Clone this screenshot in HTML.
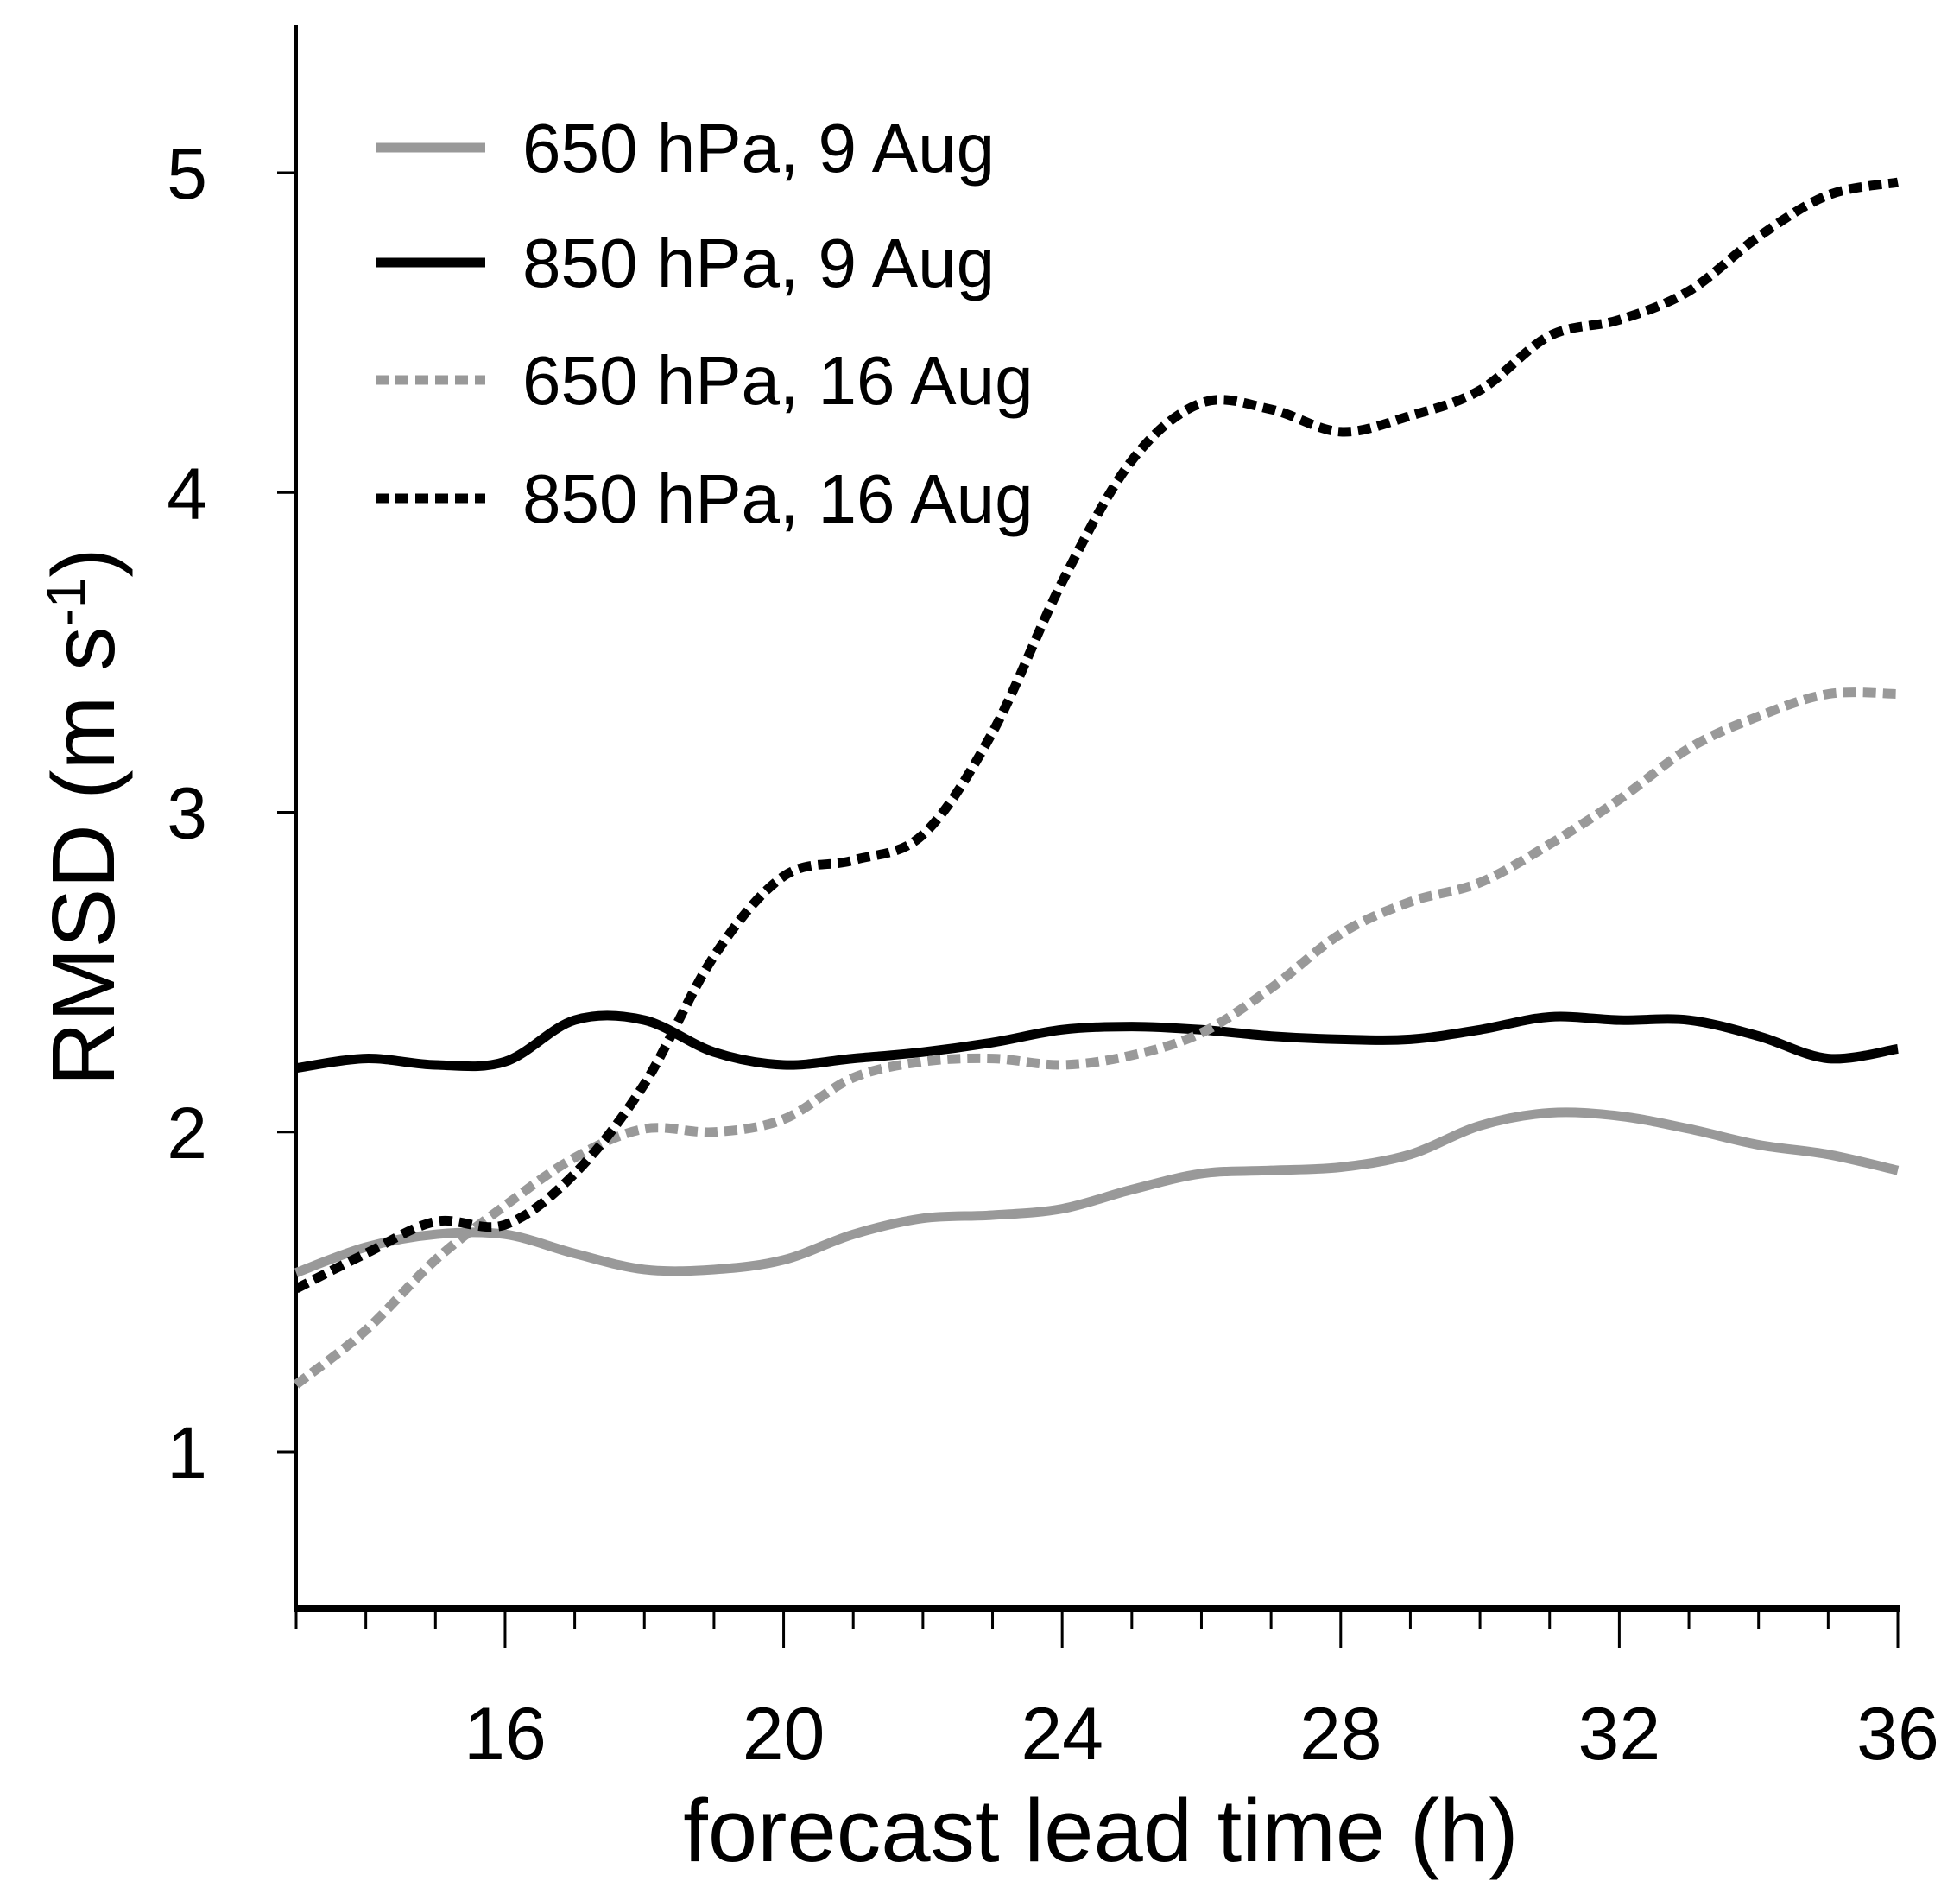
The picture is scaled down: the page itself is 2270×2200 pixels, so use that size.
<!DOCTYPE html>
<html><head><meta charset="utf-8"><style>
html,body{margin:0;padding:0;background:#fff}
svg{display:block}
text{font-family:"Liberation Sans",Arial,sans-serif;fill:#000}
</style></head><body>
<svg id="chart" width="2270" height="2200" viewBox="0 0 2270 2200" xmlns="http://www.w3.org/2000/svg">
<g id="axes"></g><g id="series"></g><g id="legend"></g>
</svg>
<script>
const hours = [13,14,15,16,17,18,19,20,21,22,23,24,25,26,27,28,29,30,31,32,33,34,35,36];
const s650aug9 = [1.56,1.64,1.68,1.68,1.62,1.57,1.57,1.60,1.68,1.73,1.74,1.76,1.82,1.87,1.88,1.89,1.93,2.02,2.06,2.05,2.01,1.96,1.93,1.88];
const s850aug9 = [2.20,2.23,2.21,2.22,2.35,2.35,2.25,2.21,2.23,2.25,2.28,2.32,2.33,2.32,2.30,2.29,2.29,2.32,2.36,2.35,2.35,2.30,2.23,2.26];
const s650aug16 = [1.21,1.38,1.60,1.77,1.92,2.01,2.00,2.04,2.17,2.22,2.23,2.21,2.24,2.31,2.45,2.62,2.72,2.78,2.90,3.04,3.20,3.30,3.37,3.37];
const s850aug16 = [1.51,1.62,1.72,1.71,1.87,2.15,2.55,2.80,2.85,2.93,3.25,3.72,4.10,4.28,4.26,4.19,4.24,4.32,4.49,4.54,4.63,4.80,4.93,4.97];
const xTickLabels = [16,20,24,28,32,36];
const yTickLabels = [1,2,3,4,5];
const legendLabels = ["650 hPa, 9 Aug","850 hPa, 9 Aug","650 hPa, 16 Aug","850 hPa, 16 Aug"];

const NS="http://www.w3.org/2000/svg";
const XL=343, XR=2198, AXY=1862;
function xs(h){return XL+(h-13)*(XR-XL)/23;}
function ys(v){return 1681-(v-1)*370.25;}
function mk(tag,attrs,parent){const e=document.createElementNS(NS,tag);for(const k in attrs)e.setAttribute(k,attrs[k]);parent.appendChild(e);return e;}
const axes=document.getElementById('axes');
const yAxis=mk('line',{x1:XL,y1:29,x2:XL,y2:AXY+4,stroke:'#000','stroke-width':4},axes);


const xAxis=mk('line',{x1:XL-2,y1:AXY,x2:XR+2,y2:AXY,stroke:'#000','stroke-width':8},axes);


for(let h=13;h<=36;h++){
  const major=xTickLabels.includes(h);
  const t=mk('line',{x1:xs(h),y1:AXY,x2:xs(h),y2:major?AXY+46:AXY+24,stroke:'#000','stroke-width':3},axes);
  
  
}
xTickLabels.forEach(v=>{
  const t=mk('text',{x:xs(v),y:2037,'font-size':86,'text-anchor':'middle'},axes);
  t.textContent=v;
  
  
});
yTickLabels.forEach(v=>{
  const l=mk('line',{x1:XL-22,y1:ys(v),x2:XL,y2:ys(v),stroke:'#000','stroke-width':3},axes);
  
  
  const t=mk('text',{x:240,y:ys(v)+30,'font-size':84,'text-anchor':'end'},axes);
  t.textContent=v;
  
  
});
const xt=mk('text',{x:1275,y:2155,'font-size':103,'text-anchor':'middle'},axes);
xt.textContent='forecast lead time (h)';


const yt=mk('text',{x:0,y:0,'font-size':103,'text-anchor':'middle',transform:'translate(132,946) rotate(-90)'},axes);
yt.innerHTML='RMSD (m s<tspan dy="-34" font-size="64">-1</tspan><tspan dy="34">)</tspan>';



function pathFor(vals){
  const p=vals.map((v,i)=>[xs(hours[i]),ys(v)]);
  let d='M'+p[0][0]+','+p[0][1];
  for(let i=0;i<p.length-1;i++){
    const p0=p[Math.max(0,i-1)],p1=p[i],p2=p[i+1],p3=p[Math.min(p.length-1,i+2)];
    const c1=[p1[0]+(p2[0]-p0[0])/6,p1[1]+(p2[1]-p0[1])/6];
    const c2=[p2[0]-(p3[0]-p1[0])/6,p2[1]-(p3[1]-p1[1])/6];
    d+=' C'+c1+' '+c2+' '+p2;
  }
  return d;
}
const styles=[
  {vals:s650aug9,color:'#999',dash:null,name:'series-650hpa-9aug'},
  {vals:s850aug9,color:'#000',dash:null,name:'series-850hpa-9aug'},
  {vals:s650aug16,color:'#999',dash:'15 8',name:'series-650hpa-16aug'},
  {vals:s850aug16,color:'#000',dash:'15 8',name:'series-850hpa-16aug'}
];
const sg=document.getElementById('series'), lg=document.getElementById('legend');
const legendY=[171,304,440,577];
styles.forEach((s,i)=>{
  const a={d:pathFor(s.vals),fill:'none',stroke:s.color,'stroke-width':11,'stroke-linejoin':'round'};
  if(s.dash)a['stroke-dasharray']=s.dash;
  const p=mk('path',a,sg);
  
  
  const ly=legendY[i];
  const la={x1:435,y1:ly,x2:562,y2:ly,stroke:s.color,'stroke-width':11};
  if(s.dash)la['stroke-dasharray']=s.dash;
  const ll=mk('line',la,lg);
  
  
  const lt=mk('text',{x:605,y:ly+28,'font-size':80},lg);
  lt.textContent=legendLabels[i];
  
  
});
</script>
</body></html>
